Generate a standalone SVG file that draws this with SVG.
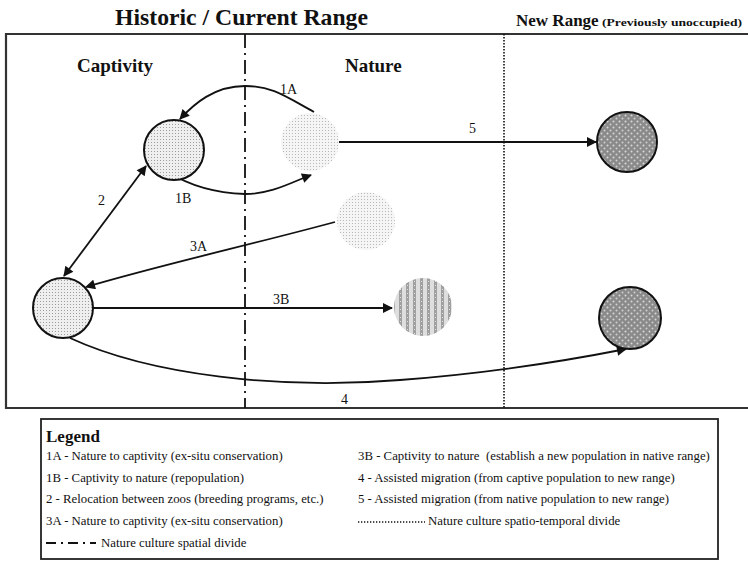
<svg xmlns="http://www.w3.org/2000/svg" width="748" height="564" viewBox="0 0 748 564">
<style>
.t{font-family:"Liberation Serif","Times New Roman",serif;fill:#111}
.b{font-weight:bold}
.ln{fill:none;stroke:#111;stroke-width:1.8}
.lg{font-size:12.8px}
.lb{font-size:14px}
</style>
<defs>
<pattern id="pdots" width="3" height="3" patternUnits="userSpaceOnUse">
<rect width="3" height="3" fill="#efefef"/><rect x="1" y="1" width="1" height="1" fill="#9c9c9c"/>
</pattern>
<pattern id="pdots2" width="3" height="3" patternUnits="userSpaceOnUse">
<rect width="3" height="3" fill="#f5f5f5"/><rect x="1" y="1" width="1" height="1" fill="#b8b8b8"/>
</pattern>
<pattern id="pstripe" width="7" height="4" patternUnits="userSpaceOnUse">
<rect width="7" height="4" fill="#dedede"/><rect x="0" width="3" height="4" fill="#a0a0a0"/><rect x="1" y="1" width="1" height="1" fill="#e0e0e0"/>
</pattern>
<pattern id="pdark" width="6" height="6" patternUnits="userSpaceOnUse">
<rect width="6" height="6" fill="#8a8a8a"/><circle cx="1.5" cy="1.5" r="1" fill="#d8d8d8"/><circle cx="4.5" cy="4.5" r="1" fill="#cfcfcf"/>
</pattern>
<marker id="ahb" viewBox="0 0 10 10" refX="9" refY="5" markerWidth="12" markerHeight="10" markerUnits="userSpaceOnUse" orient="auto-start-reverse">
<path d="M0,0 L10,5 L0,10 z" fill="#111"/>
</marker>
</defs>
<rect width="748" height="564" fill="#fff"/>

<g id="titles">
<text class="t b" x="115" y="25" font-size="23" textLength="253" lengthAdjust="spacingAndGlyphs">Historic / Current Range</text>
<text class="t b" x="516" y="26" font-size="17">New Range</text>
<text class="t b" x="602" y="26" font-size="10.5" textLength="140" lengthAdjust="spacingAndGlyphs">(Previously unoccupied)</text>
<text class="t b" x="77" y="72" font-size="19">Captivity</text>
<text class="t b" x="345" y="72" font-size="19">Nature</text>
</g>

<g id="frame">
<path d="M750,34 H6 V408 H750" fill="none" stroke="#333" stroke-width="2.2"/>
<line x1="245" y1="34" x2="245" y2="408" stroke="#111" stroke-width="1.8" stroke-dasharray="14,5,2,5"/>
<line x1="504" y1="34" x2="504" y2="408" stroke="#111" stroke-width="1.6" stroke-dasharray="1.5,1.5"/>
</g>

<g id="connectors">
<path class="ln" d="M314,112 C285,96 272,86 245,86 C214,86 194,104 180,119" marker-end="url(#ahb)"/>
<text class="t lb" x="280" y="94">1A</text>
<path class="ln" d="M168,172 C190,186 215,193 245,194 C272,194 292,182 311,175" marker-end="url(#ahb)"/>
<text class="t lb" x="175" y="203">1B</text>
<line class="ln" x1="146" y1="166" x2="64" y2="276" marker-start="url(#ahb)" marker-end="url(#ahb)"/>
<text class="t lb" x="98" y="205">2</text>
<path class="ln" d="M335,222 C250,245 160,265 86,287" marker-end="url(#ahb)"/>
<text class="t lb" x="190" y="251">3A</text>
<line class="ln" x1="93" y1="308" x2="392" y2="308" marker-end="url(#ahb)"/>
<text class="t lb" x="273" y="304">3B</text>
<line class="ln" x1="339" y1="142" x2="596" y2="142" marker-end="url(#ahb)"/>
<text class="t lb" x="469" y="133">5</text>
<path class="ln" d="M70,338 C150,375 280,390 400,380 C480,374 560,362 626,349" marker-end="url(#ahb)"/>
<text class="t lb" x="341" y="404">4</text>
</g>

<g id="c1"><circle cx="174" cy="150" r="30" fill="url(#pdots)" stroke="#111" stroke-width="2"/></g>
<g id="n1"><circle cx="310" cy="142" r="29" fill="url(#pdots2)"/></g>
<g id="n2"><circle cx="366" cy="221" r="29" fill="url(#pdots2)"/></g>
<g id="c2"><circle cx="63" cy="308" r="30" fill="url(#pdots)" stroke="#111" stroke-width="2"/></g>
<g id="n3"><circle cx="423" cy="307" r="29" fill="url(#pstripe)"/></g>
<g id="r1"><circle cx="627" cy="142" r="30" fill="url(#pdark)" stroke="#111" stroke-width="2"/></g>
<g id="r2"><circle cx="630" cy="318" r="31" fill="url(#pdark)" stroke="#111" stroke-width="2"/></g>

<g id="legend">
<rect x="41" y="419" width="677" height="140" fill="none" stroke="#222" stroke-width="1.8"/>
<text class="t b" x="46" y="442" font-size="17">Legend</text>
<text class="t lg" x="46" y="460">1A - Nature to captivity (ex-situ conservation)</text>
<text class="t lg" x="46" y="482">1B - Captivity to nature (repopulation)</text>
<text class="t lg" x="46" y="503">2 - Relocation between zoos (breeding programs, etc.)</text>
<text class="t lg" x="46" y="525">3A - Nature to captivity (ex-situ conservation)</text>
<line x1="46" y1="543" x2="96" y2="543" stroke="#111" stroke-width="1.8" stroke-dasharray="10,5,2,5"/>
<text class="t lg" x="101" y="547">Nature culture spatial divide</text>
<text class="t lg" x="358" y="460">3B - Captivity to nature&#160; (establish a new population in native range)</text>
<text class="t lg" x="358" y="482">4 - Assisted migration (from captive population to new range)</text>
<text class="t lg" x="358" y="503">5 - Assisted migration (from native population to new range)</text>
<line x1="358" y1="522" x2="425" y2="522" stroke="#111" stroke-width="1.4" stroke-dasharray="1.3,1.7"/>
<text class="t lg" x="428" y="525">Nature culture spatio-temporal divide</text>
</g>
</svg>
